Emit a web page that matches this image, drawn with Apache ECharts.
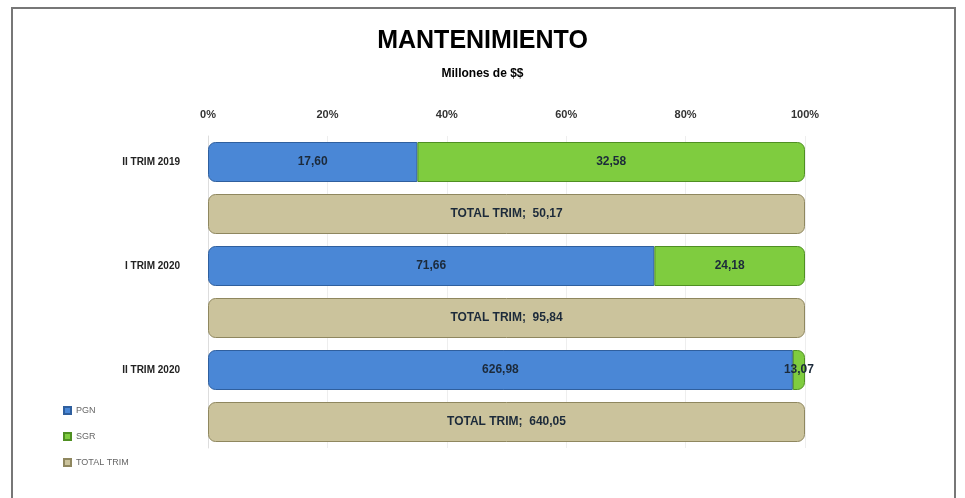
<!DOCTYPE html>
<html><head><meta charset="utf-8">
<script src="https://cdn.jsdelivr.net/npm/echarts@6/dist/echarts.min.js"></script>
<style>html,body{margin:0;padding:0;background:#fff}#c{width:965px;height:498px}</style>
</head><body><div id="c"></div>
<script>
const categories = ['II TRIM 2019', 'I TRIM 2020', 'II TRIM 2020'];
const pgn = [17.60, 71.66, 626.98];
const sgr = [32.58, 24.18, 13.07];
const totalTrim = [50.17, 95.84, 640.05];
const tickLabels = ['0%', '20%', '40%', '60%', '80%', '100%'];

const fmt = v => v.toFixed(2).replace('.', ',');
const pct = (arr) => arr.map((v, i) => v / (pgn[i] + sgr[i]) * 100);

const chart = echarts.init(document.getElementById('c'));
const labelStyle = { show: true, color: '#1c2a3a', fontWeight: 'bold', fontSize: 12, fontFamily: 'Liberation Sans, Arial' };
chart.setOption({
  animation: false,
  title: [
    { text: 'MANTENIMIENTO', left: 'center', top: 24, textStyle: { fontSize: 25, fontWeight: 'bold', color: '#000', fontFamily: 'Liberation Sans, Arial' } },
    { text: 'Millones de $$', left: 'center', top: 63, textStyle: { fontSize: 12, fontWeight: 'bold', color: '#000', fontFamily: 'Liberation Sans, Arial' } }
  ],
  graphic: [{ type: 'rect', shape: { x: 12, y: 8, width: 943, height: 500 }, style: { fill: 'none', stroke: '#777', lineWidth: 2 }, silent: true }],
  legend: {
    orient: 'vertical', left: 58, top: 401, itemGap: 17, itemWidth: 7, itemHeight: 7, icon: 'rect',
    textStyle: { fontSize: 9, color: '#666', fontFamily: 'Liberation Sans, Arial' },
    data: ['PGN', 'SGR', 'TOTAL TRIM']
  },
  grid: { left: 208, right: 160, top: 136, bottom: 50 },
  xAxis: {
    type: 'value', position: 'top', min: 0, max: 100, interval: 20,
    axisLabel: { formatter: v => tickLabels[v / 20], fontSize: 11, fontWeight: 'bold', color: '#333', margin: 16, fontFamily: 'Liberation Sans, Arial' },
    splitLine: { show: true, lineStyle: { color: '#eee' } },
    axisLine: { show: false }, axisTick: { show: false }
  },
  yAxis: {
    type: 'category', data: categories, inverse: true,
    axisLabel: { fontSize: 10, fontWeight: 'bold', color: '#222', margin: 28, lineHeight: 13, formatter: v => v + '\n\n\n\n', fontFamily: 'Liberation Sans, Arial' },
    axisLine: { show: true, lineStyle: { color: '#ddd' } }, axisTick: { show: false }
  },
  series: [
    { name: 'PGN', type: 'bar', stack: 'a', barWidth: 40, barGap: '30%', data: pct(pgn),
      itemStyle: { color: '#4a87d6', borderColor: '#2f5f9e', borderWidth: 1, borderRadius: [7, 0, 0, 7] },
      label: Object.assign({}, labelStyle, { formatter: p => fmt(pgn[p.dataIndex]) }) },
    { name: 'SGR', type: 'bar', stack: 'a', barWidth: 40, data: pct(sgr),
      itemStyle: { color: '#7fcc3f', borderColor: '#4f8f22', borderWidth: 1, borderRadius: [0, 7, 7, 0] },
      label: Object.assign({}, labelStyle, { formatter: p => fmt(sgr[p.dataIndex]), position: 'inside' }) },
    { name: 'TOTAL TRIM', type: 'bar', barWidth: 40, data: totalTrim.map(() => 100),
      itemStyle: { color: '#cbc39c', borderColor: '#8f875f', borderWidth: 1, borderRadius: 7 },
      label: Object.assign({}, labelStyle, { formatter: p => 'TOTAL TRIM;  ' + fmt(totalTrim[p.dataIndex]) }) }
  ]
});
</script></body></html>
